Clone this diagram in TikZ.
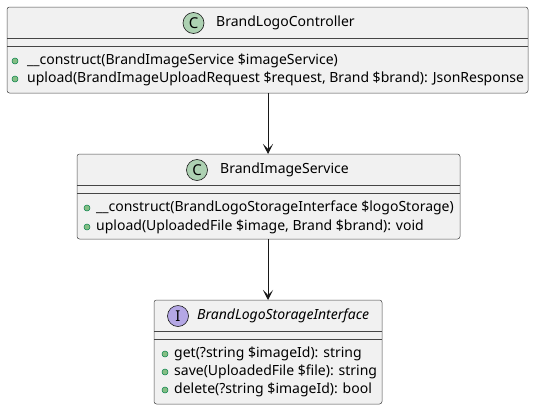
\documentclass[tikz,border=0pt]{standalone}
\usepackage{fontspec}
\setmainfont{Noto Sans}
\usetikzlibrary{arrows.meta}
\definecolor{boxfill}{HTML}{F1F1F1}
\definecolor{boxline}{HTML}{181818}
\definecolor{cfill}{HTML}{ADD1B2}
\definecolor{ifill}{HTML}{B4A7E5}
\definecolor{dotfill}{HTML}{84BE84}
\definecolor{dotline}{HTML}{038048}
\tikzset{
  umlbox/.style={draw=boxline!80, fill=boxfill, line width=0.5pt, rounded corners=2.5pt},
  sepline/.style={draw=boxline!80, line width=0.5pt},
  badge/.style={circle, draw=boxline, line width=0.6pt, minimum size=21pt, inner sep=0pt, font=\fontsize{15}{15}\selectfont},
  dotmark/.style={circle, draw=dotline, fill=dotfill, line width=0.5pt, minimum size=6pt, inner sep=0pt},
  member/.style={anchor=west, inner sep=0pt, font=\fontsize{14}{15}\selectfont},
  title/.style={anchor=west, inner sep=0pt, font=\fontsize{14}{15}\selectfont},
  assoc/.style={draw=boxline, line width=0.8pt, -{Stealth[length=10pt, width=10pt, inset=5pt]}},
}
\begin{document}
\begin{tikzpicture}[x=1pt, y=-1pt]
\useasboundingbox (0,0) rectangle (535,410);
% Box 1
\path[umlbox] (7,7) rectangle (528,93);
\draw[sepline] (7,38) -- (528,38);
\draw[sepline] (7,46) -- (528,46);
\node[badge, fill=cfill] (c1) at (193.5,23) {C};
\node[title] (t1) at (216,23) {BrandLogoController};
\node[dotmark] (d11) at (15,61) {};
\node[member] (m11) at (27,61) {\_\_construct(BrandImageService \$imageService)};
\node[dotmark] (d12) at (15,79) {};
\node[member] (m12) at (27,79) {upload(BrandImageUploadRequest \$request, Brand \$brand): JsonResponse};
\coordinate (b1) at (268,93);
% Box 2
\path[umlbox] (77,154) rectangle (460,239);
\draw[sepline] (77,185) -- (460,185);
\draw[sepline] (77,193) -- (460,193);
\node[badge, fill=cfill] (c2) at (197,170) {C};
\node[title] (t2) at (220,170) {BrandImageService};
\node[dotmark] (d21) at (87,208) {};
\node[member] (m21) at (96,208) {\_\_construct(BrandLogoStorageInterface \$logoStorage)};
\node[dotmark] (d22) at (87,227) {};
\node[member] (m22) at (96,227) {upload(UploadedFile \$image, Brand \$brand): void};
\coordinate (a2) at (268,154);
\coordinate (b2) at (268,239);
% Box 3
\path[umlbox] (154,300) rectangle (382,404);
\draw[sepline] (154,331) -- (382,331);
\draw[sepline] (154,339) -- (382,339);
\node[badge, fill=ifill] (c3) at (178,316) {I};
\node[title, font=\fontsize{14}{15}\selectfont\itshape] (t3) at (197,316) {BrandLogoStorageInterface};
\node[dotmark] (d31) at (165,354) {};
\node[member] (m31) at (174,354) {get(?string \$imageId): string};
\node[dotmark] (d32) at (165,372) {};
\node[member] (m32) at (174,372) {save(UploadedFile \$file): string};
\node[dotmark] (d33) at (165,390) {};
\node[member] (m33) at (174,390) {delete(?string \$imageId): bool};
\coordinate (a3) at (268,300);
% connectors
\draw[assoc] (b1) -- (a2);
\draw[assoc] (b2) -- (a3);
\end{tikzpicture}
\end{document}
